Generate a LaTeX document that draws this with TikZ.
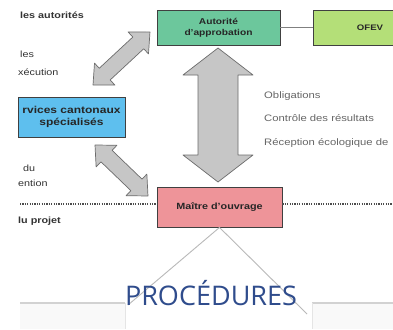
\documentclass[tikz,border=0pt]{standalone}
\usepackage{fontspec}
\setmainfont[FakeStretch=1.2]{Liberation Sans}
\newfontfamily\titlefont{Open Sans}
\usetikzlibrary{calc}

\definecolor{autgreen}{HTML}{6CC79C}
\definecolor{ofevgreen}{HTML}{B4DF78}
\definecolor{cantblue}{HTML}{5EBFEE}
\definecolor{maitrepink}{HTML}{EE9499}
\definecolor{arrowgray}{HTML}{C6C6C6}
\definecolor{titleblue}{HTML}{2F4C8C}

\tikzset{
    box/.style={draw=black!75,line width=0.9pt,align=center,inner sep=0pt,
        font=\bfseries\fontsize{8.5}{11}\selectfont,text=black!85},
    fat/.style={fill=arrowgray,draw=gray!85!black,line width=0.7pt,line join=round},
    sidetext/.style={anchor=base west,inner sep=0pt,font=\fontsize{9}{11}\selectfont,text=black!80},
}

% fat double arrow: start, end, shaft half width, head half width, head length
\newcommand{\fatarrow}[5]{%
    \filldraw[fat] let \p1=(#1), \p2=(#2),
        \n1={atan2(\y2-\y1,\x2-\x1)}, \n2={veclen(\x2-\x1,\y2-\y1)} in
        {[shift={(\p1)},rotate=\n1]
        (0,0)--(#5,#4)--(#5,#3)--(\n2-#5,#3)--(\n2-#5,#4)--(\n2,0)
        --(\n2-#5,-#4)--(\n2-#5,-#3)--(#5,-#3)--(#5,-#4)--cycle};
}

\begin{document}
\begin{tikzpicture}[x=1pt,y=-1pt]
            \clip (0,0) rectangle (393,329);
            \fill[white] (0,0) rectangle (393,329);

            % bottom tabs
            \fill[gray!5] (20,303) rectangle (393,329);
            \fill[white] (125,300) rectangle (312,329);
            \draw[gray!35,line width=1.2pt] (20,303)--(125,303);
            \draw[gray!35,line width=1.2pt] (312,303)--(393,303);
            \draw[gray!20] (125,303)--(125,329);
            \draw[gray!20] (312,303)--(312,329);

            % boxes
            \node[box,fill=autgreen,minimum width=123pt,minimum height=35pt] (autorite) at (218.5,27.5){Autorité\\d'approbation};
            \node[box,fill=ofevgreen,minimum width=117pt,minimum height=35pt,font=\bfseries\fontsize{8}{10}\selectfont] (ofev) at (371.5,27.5){\hspace*{-3pt}OFEV};
            \node[box,fill=cantblue,minimum width=107pt,minimum height=40pt,font=\bfseries\fontsize{10}{12}\selectfont] (cantonaux) at (71.5,117){rvices cantonaux\\spécialisés};
            \node[box,fill=maitrepink,minimum width=125pt,minimum height=40pt,font=\bfseries\fontsize{9}{11}\selectfont] (maitre) at (219.5,207){Maître d'ouvrage};

            \draw[gray,line width=0.8pt] (autorite.east)--(ofev.west);

            % dotted separator
            \coordinate (dotl) at (20,204);
            \coordinate (dotr) at (393,204);
            \draw[line width=1.1pt,dash pattern=on 1.1pt off 1.3pt,black!70] (dotl)--(dotl-|maitre.west);
            \draw[line width=1.1pt,dash pattern=on 1.1pt off 1.3pt,black!70] (maitre.east|-dotr)--(dotr);

            % arrows
            \coordinate (vtop) at (218,48);
            \coordinate (vbot) at (218,182);
            \coordinate (d1a) at (93,85);
            \coordinate (d1b) at (150,32);
            \coordinate (d2a) at (95,145);
            \coordinate (d2b) at (148,196);
            \fatarrow{vbot}{vtop}{20}{35}{27}
            \fatarrow{d1a}{d1b}{8}{15}{16}
            \fatarrow{d2a}{d2b}{8}{15}{16}

            % left column texts
            \node[sidetext,font=\bfseries\fontsize{9}{11}\selectfont] (autorites) at (20,19){les autorités};
            \node[sidetext] (les) at (20,58){les};
            \node[sidetext] (execution) at (18,75){xécution};
            \node[sidetext] (du) at (23,171){du};
            \node[sidetext] (ention) at (18,186){ention};
            \node[sidetext,font=\bfseries\fontsize{9}{11}\selectfont] (projet) at (18,223){lu projet};

            % right column texts
            \node[sidetext,text=black!60,font=\fontsize{9.4}{11}\selectfont] (oblig) at (264,98){Obligations};
            \node[sidetext,text=black!60,font=\fontsize{9.4}{11}\selectfont] (controle) at (264,121){Contrôle des résultats};
            \node[sidetext,text=black!60,font=\fontsize{9.4}{11}\selectfont] (reception) at (264,145){Réception écologique de};

            % procedures
            \coordinate (tl) at (128,305);
            \coordinate (tr) at (307,314);
            \draw[gray!55,line width=0.9pt] (tl)--(maitre.south)--(tr);
            \node[text=titleblue,font=\titlefont\fontsize{27}{32}\selectfont,inner sep=0pt,anchor=base] (proc) at (211,305){PROCÉDURES};
\end{tikzpicture}
\end{document}
